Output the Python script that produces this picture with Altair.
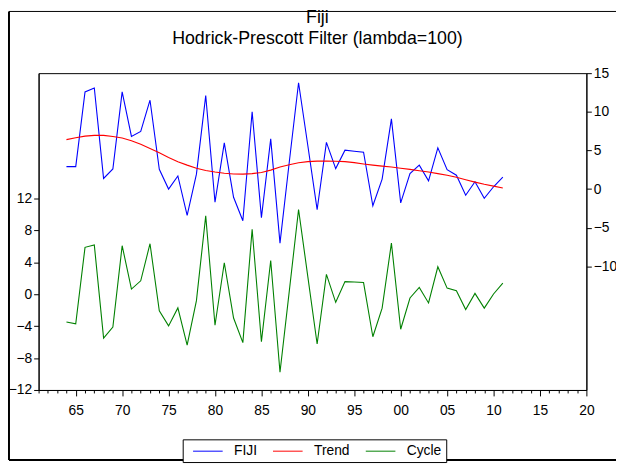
import altair as alt
import pandas as pd

# ---------------- data ----------------
years = list(range(1964, 2012))

fiji = [2.9, 2.9, 12.57, 13.08, 1.37, 2.6, 12.57, 6.82, 7.46, 11.5,
        2.56, 0.0, 1.7, -3.4, 1.93, 12.1, -1.7, 5.97, -1.06, -4.1,
        10.0, -3.7, 6.5, -7.0, 3.5, 13.76, 5.6, -2.67, 6.05, 2.65,
        5.03, 4.9, 4.78, -2.16, 1.29, 9.08, -1.78, 2.0, 3.1, 1.07,
        5.33, 2.52, 1.8, -0.8, 0.94, -1.19, 0.3, 1.54]

trend = [6.4, 6.65, 6.85, 6.95, 6.95, 6.8, 6.6, 6.25, 5.8, 5.25,
         4.7, 4.1, 3.55, 3.1, 2.7, 2.4, 2.2, 2.05, 1.95, 1.93,
         2.0, 2.15, 2.45, 2.85, 3.15, 3.4, 3.55, 3.62, 3.63, 3.6,
         3.55, 3.42, 3.25, 3.1, 2.97, 2.85, 2.7, 2.55, 2.38, 2.2,
         2.0, 1.78, 1.52, 1.2, 0.9, 0.62, 0.38, 0.15]

cycle = [-3.46, -3.7, 5.9, 6.2, -5.5, -4.1, 6.1, 0.66, 1.7, 6.35,
         -2.07, -3.96, -1.7, -6.36, -0.79, 9.85, -3.88, 3.96, -2.97, -6.06,
         8.16, -5.94, 4.24, -9.77, 0.4, 10.64, 2.2, -6.23, 2.51, -1.0,
         1.6, 1.55, 1.48, -5.32, -1.73, 6.43, -4.38, -0.46, 0.86, -1.08,
         3.46, 0.78, 0.45, -1.9, 0.12, -1.73, 0.04, 1.4]

series_names = ["FIJI", "Trend", "Cycle"]
series_colors = ["#0000FF", "#FF0000", "#008000"]
left_ticks = [-12, -8, -4, 0, 4, 8, 12]
right_ticks = [-10, -5, 0, 5, 10, 15]
x_ticks = list(range(1961, 2021))
title_lines = ["Fiji", "Hodrick-Prescott Filter (lambda=100)"]

n = len(years)
df_fiji = pd.DataFrame({"year": years, "value": fiji, "series": ["FIJI"] * n})
df_trend = pd.DataFrame({"year": years, "value": trend, "series": ["Trend"] * n})
df_cycle = pd.DataFrame({"year": years, "value": cycle, "series": ["Cycle"] * n})

FONT = "Liberation Sans"

color = alt.Color(
    "series:N",
    scale=alt.Scale(domain=series_names, range=series_colors),
    legend=alt.Legend(
        title=None, orient="none", legendX=146, legendY=371,
        direction="horizontal", strokeColor="black", fillColor="white",
        padding=4, symbolOffset=6, symbolType="M-1,0H3", symbolSize=225,
        symbolStrokeWidth=1,
        labelFont=FONT, labelFontSize=14, labelColor="black",
        columnPadding=9, labelOffset=26,
    ),
)

x = alt.X(
    "year:Q",
    scale=alt.Scale(domain=[1961, 2020], nice=False, zero=False),
    axis=alt.Axis(
        values=x_ticks, title=None, grid=False,
        labelExpr="datum.value % 5 == 0 ? slice(toString(datum.value), 2) : ''",
        tickSize={"condition": {"test": "datum.value % 5 == 0", "value": 6}, "value": 3},
        labelPadding=8, labelOverlap=False, labelFlush=False,
    ),
)

y_left = alt.Y(
    "value:Q",
    scale=alt.Scale(domain=[-12, 27.75], nice=False, zero=False),
    axis=alt.Axis(orient="left", values=left_ticks, title=None, tickSize=5, grid=False,
                  labelPadding=2, labelOverlap=False, labelFlush=False),
)
y_right = alt.Y(
    "value:Q",
    scale=alt.Scale(domain=[-26, 15], nice=False, zero=False),
    axis=alt.Axis(orient="right", values=right_ticks, title=None, tickSize=5, grid=False,
                  labelPadding=2, labelOverlap=False, labelFlush=False),
)

cyc = alt.Chart(df_cycle).mark_line(strokeWidth=1.1).encode(x=x, y=y_left, color=color)
fiji_line = alt.Chart(df_fiji).mark_line(strokeWidth=1.1).encode(x=x, y=y_right, color=color)
trend_line = alt.Chart(df_trend).mark_line(strokeWidth=1.1).encode(x=x, y=y_right, color=color)
right = alt.layer(fiji_line, trend_line)

one = alt.Data(values=[{"k": 1}])
frame_left = alt.Chart(one).mark_rule(color="black", strokeWidth=2).encode(
    x=alt.value(-30), y=alt.value(-62.5), y2=alt.value(392))
frame_top = alt.Chart(one).mark_rule(color="black", strokeWidth=1).encode(
    x=alt.value(-30), x2=alt.value(600), y=alt.value(-62.5))
frame_bottom = alt.Chart(one).mark_rule(color="black", strokeWidth=2).encode(
    x=alt.value(-30), x2=alt.value(600), y=alt.value(392))

chart = alt.layer(cyc, right, frame_left, frame_top, frame_bottom).resolve_scale(
    y="independent"
).properties(
    width=555, height=321,
    autosize=alt.AutoSizeParams(type="none"),
    padding={"left": 31, "top": 63, "right": 30, "bottom": 74},
    background="white",
    title=alt.TitleParams(text=title_lines, anchor="middle", frame="group", font=FONT,
                          fontSize=18, fontWeight="normal", color="black",
                          lineHeight=21, offset=-38, dx=5),
).configure_view(stroke="black", strokeWidth=1).configure_axis(
    domainColor="black", tickColor="black", labelColor="black",
    labelFont=FONT, labelFontSize=14, grid=False,
)

chart.save("out.html", embed_options={"renderer": "svg", "actions": False})
